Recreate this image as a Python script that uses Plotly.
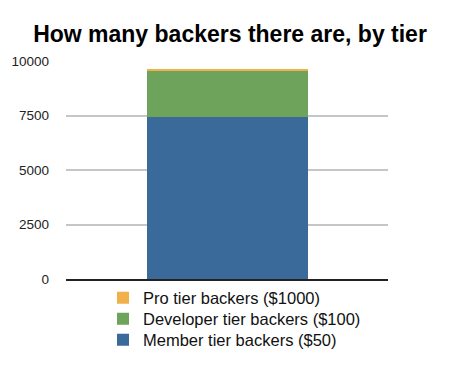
import plotly.graph_objects as go

categories = ["Backers"]
member = [7420]
developer = [2140]
pro = [50]

series_names = ["Member tier backers ($50)", "Developer tier backers ($100)", "Pro tier backers ($1000)"]
series_values = [member, developer, pro]
colors = ["#3A6A9A", "#6DA35A", "#F2B04D"]
tick_values = [0, 2500, 5000, 7500, 10000]
tick_labels = ["0", "2500", "5000", "7500", "10000"]

W, H = 460, 369
L, R, T, B = 66, 72, 61, 90
PH = H - T - B
PW = W - L - R
legend_ids = ["legend3", "legend2", "legend"]
legend_rows = [340, 319, 298]  # pixel centres of each legend row

fig = go.Figure()
for name, vals, col, lid in zip(series_names, series_values, colors, legend_ids):
    fig.add_trace(go.Bar(x=categories, y=vals, name=name, legend=lid,
                         marker=dict(color=col, line=dict(width=0))))

legend_common = dict(orientation="v", x=(103 - L) / PW, xanchor="left", yanchor="middle",
                     font=dict(size=16.5, color="#111"), bgcolor="rgba(0,0,0,0)")
legends = {}
for lid, yc in zip(legend_ids, legend_rows):
    legends[lid] = dict(legend_common, y=1 - (yc - T) / PH)

fig.update_layout(
    width=W, height=H,
    barmode="stack", bargap=0.5,
    margin=dict(l=L, r=R, t=T, b=B, pad=0, autoexpand=False),
    plot_bgcolor="white", paper_bgcolor="white",
    font=dict(family="Liberation Sans, Arial, sans-serif", color="#111"),
    title=dict(text="<b>How many backers there are, by tier</b>", x=0.5, xanchor="center",
               y=1 - 34 / H, yanchor="middle", yref="container",
               font=dict(size=23, color="#000")),
    showlegend=True,
    **legends,
)
fig.update_yaxes(range=[0, 10000], tickvals=tick_values, ticktext=tick_labels, showgrid=True,
                 gridcolor="#C6C6C6", gridwidth=2, zeroline=False, ticks="",
                 ticklabelstandoff=16, tickfont=dict(size=13.5, color="#222"))
fig.update_xaxes(showticklabels=False, showline=True, linecolor="#222", linewidth=2, ticks="",
                 showgrid=False)
fig.write_html("out.html")
